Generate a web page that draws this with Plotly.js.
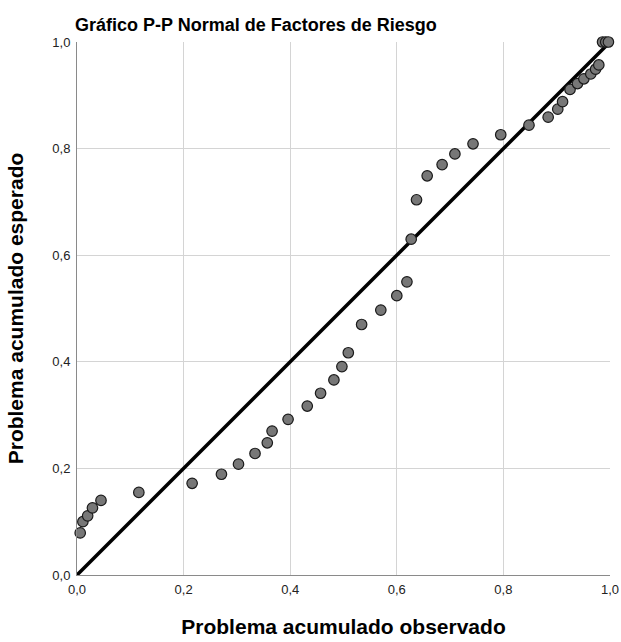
<!DOCTYPE html>
<html>
<head>
<meta charset="utf-8">
<script src="https://cdn.plot.ly/plotly-3.0.1.min.js"></script>
<style>html,body{margin:0;padding:0;background:#fff;}#chart{width:621px;height:642px;}</style>
</head>
<body>
<div id="chart"></div>
<script>
const observed = [0.006, 0.011, 0.020, 0.029, 0.045, 0.116, 0.216, 0.271, 0.303, 0.334, 0.357, 0.366, 0.396, 0.432, 0.457, 0.482, 0.497, 0.509, 0.534, 0.570, 0.600, 0.619, 0.627, 0.637, 0.657, 0.685, 0.709, 0.743, 0.795, 0.848, 0.884, 0.902, 0.911, 0.925, 0.939, 0.951, 0.964, 0.973, 0.979, 0.986, 0.992, 0.997];
const expected = [0.079, 0.100, 0.111, 0.126, 0.140, 0.155, 0.172, 0.189, 0.208, 0.228, 0.248, 0.270, 0.292, 0.317, 0.341, 0.366, 0.391, 0.417, 0.470, 0.497, 0.524, 0.550, 0.630, 0.704, 0.749, 0.770, 0.790, 0.809, 0.826, 0.844, 0.859, 0.874, 0.888, 0.911, 0.922, 0.931, 0.940, 0.949, 0.957, 1.000, 1.000, 1.000];
const refLineX = [0, 1];
const refLineY = [0, 1];
const tickValues = [0, 0.2, 0.4, 0.6, 0.8, 1.0];
const tickLabels = ['0,0', '0,2', '0,4', '0,6', '0,8', '1,0'];

const font = 'Liberation Sans, Arial, sans-serif';

const traces = [
  {
    x: refLineX, y: refLineY, mode: 'lines', type: 'scatter',
    line: {color: '#000000', width: 3.5},
    hoverinfo: 'skip', cliponaxis: false
  },
  {
    x: observed, y: expected, mode: 'markers', type: 'scatter',
    marker: {size: 10.5, color: '#777777', line: {color: '#1a1a1a', width: 1.2}},
    cliponaxis: false
  }
];

const axisBase = {
  range: [0, 1],
  tickvals: tickValues,
  ticktext: tickLabels,
  showgrid: true,
  gridcolor: '#d4d4d4',
  gridwidth: 1,
  zeroline: false,
  showline: true,
  linecolor: '#8a8a8a',
  linewidth: 1,
  ticks: '',
  tickfont: {family: font, size: 13, color: '#222222'},
  fixedrange: true
};

const layout = {
  width: 621, height: 642,
  margin: {l: 77, r: 11, t: 42, b: 67},
  paper_bgcolor: '#ffffff',
  plot_bgcolor: '#ffffff',
  showlegend: false,
  title: {
    text: '<b>Gráfico P-P Normal de Factores de Riesgo</b>',
    font: {family: font, size: 18, color: '#000000'},
    xref: 'container', x: 0.412, xanchor: 'center',
    yref: 'container', y: 0.961, yanchor: 'middle'
  },
  xaxis: Object.assign({}, axisBase, {
    ticklabelstandoff: 2,
    title: {text: '<b>Problema acumulado observado</b>', font: {family: font, size: 21, color: '#000000'}, standoff: 23}
  }),
  yaxis: Object.assign({}, axisBase, {
    ticklabelstandoff: 3,
    title: {text: '<b>Problema acumulado esperado</b>', font: {family: font, size: 21, color: '#000000'}, standoff: 22}
  })
};

Plotly.newPlot('chart', traces, layout, {displayModeBar: false, staticPlot: true});
</script>
</body>
</html>
